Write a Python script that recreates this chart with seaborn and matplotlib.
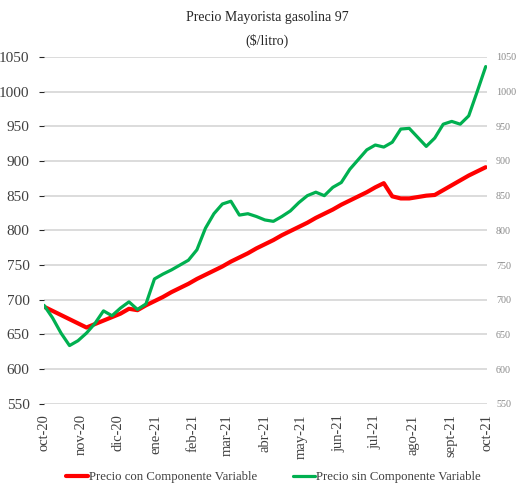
import numpy as np
import pandas as pd
import matplotlib
matplotlib.use("Agg")
import matplotlib.pyplot as plt
import seaborn as sns

# -----------------------------------------
# DATA (weekly wholesale price, $/litro)
# -----------------------------------------
start_date = "2020-10-01"
n_weeks = 53

precio_con = [
    690, 684, 678, 672, 666, 660, 665, 670, 675, 680,
    687, 685, 692, 698, 704, 711, 717, 723, 730, 736,
    742, 748, 755, 761, 767, 774, 780, 786, 793, 799,
    805, 811, 818, 824, 830, 837, 843, 849, 855, 862,
    868, 849, 846, 846, 848, 850, 851, 858, 865, 872,
    879, 885, 891,
]

precio_sin = [
    692, 674, 652, 634, 641, 652, 666, 684, 677, 688,
    697, 686, 694, 730, 737, 743, 750, 757, 772, 803,
    824, 838, 842, 822, 824, 820, 815, 813, 820, 828,
    840, 850, 855, 850, 862, 869, 888, 902, 916, 923,
    920, 927, 946, 947, 934, 921, 933, 953, 957, 953,
    965, 1000, 1036,
]

month_labels = ["oct-20", "nov-20", "dic-20", "ene-21", "feb-21", "mar-21", "abr-21",
                "may-21", "jun-21", "jul-21", "ago-21", "sept-21", "oct-21"]

y_ticks = [550, 600, 650, 700, 750, 800, 850, 900, 950, 1000, 1050]

fechas = pd.date_range(start_date, periods=n_weeks, freq="7D")
df = pd.DataFrame({"fecha": fechas, "con": precio_con, "sin": precio_sin})

# -----------------------------------------
# STYLE
# -----------------------------------------
sns.set_style("white")
plt.rcParams["font.family"] = ["Liberation Serif", "DejaVu Serif"]

fig = plt.figure(figsize=(5.18, 4.86), dpi=100)
ax = fig.add_axes([0.085, 0.169, 0.855, 0.714])

sns.lineplot(data=df, x="fecha", y="con", ax=ax, color="#FF0000", linewidth=3.0,
             label="Precio con Componente Variable")
sns.lineplot(data=df, x="fecha", y="sin", ax=ax, color="#00B050", linewidth=2.3,
             label="Precio sin Componente Variable")

ax.set_ylim(550, 1050)
ax.set_yticks(y_ticks)
ax.set_xlim(pd.Timestamp("2020-10-01"), pd.Timestamp("2021-10-01"))
ticks = pd.date_range("2020-10-01", "2021-10-01", freq="MS")
ax.set_xticks(ticks)
ax.set_xticklabels(month_labels, rotation=90, fontsize=10.5, color="#404040")

ax.grid(axis="y", color="#d9d9d9", linewidth=1.3)
ax.set_axisbelow(True)
for s in ax.spines.values():
    s.set_visible(False)

ax.tick_params(axis="y", left=False, labelsize=11, labelcolor="#404040", pad=7)
ax.tick_params(axis="x", bottom=False, pad=4)

# right-hand copy of the y labels
ax_r = ax.twinx()
ax_r.set_ylim(550, 1050)
ax_r.set_yticks(y_ticks)
ax_r.tick_params(axis="y", right=False, labelsize=7.3, labelcolor="#8a8a8a", pad=3)
ax_r.grid(False)
for s in ax_r.spines.values():
    s.set_visible(False)

ax.set_xlabel("")
ax.set_ylabel("")

fig.text(0.516, 0.963, "Precio Mayorista gasolina 97", ha="center", va="center",
         fontsize=10, color="#262626")
fig.text(0.516, 0.915, "($/litro)", ha="center", va="center",
         fontsize=10, color="#262626")

ax.get_legend().remove()
handles, labels = ax.get_legend_handles_labels()
fig.legend(handles, labels, loc="center", bbox_to_anchor=(0.528, 0.018), ncol=2,
           frameon=False, fontsize=9.2, handlelength=1.7, handletextpad=0.1,
           columnspacing=2.8, labelcolor="#404040")

plt.savefig("out.png", dpi=100)
plt.close()
